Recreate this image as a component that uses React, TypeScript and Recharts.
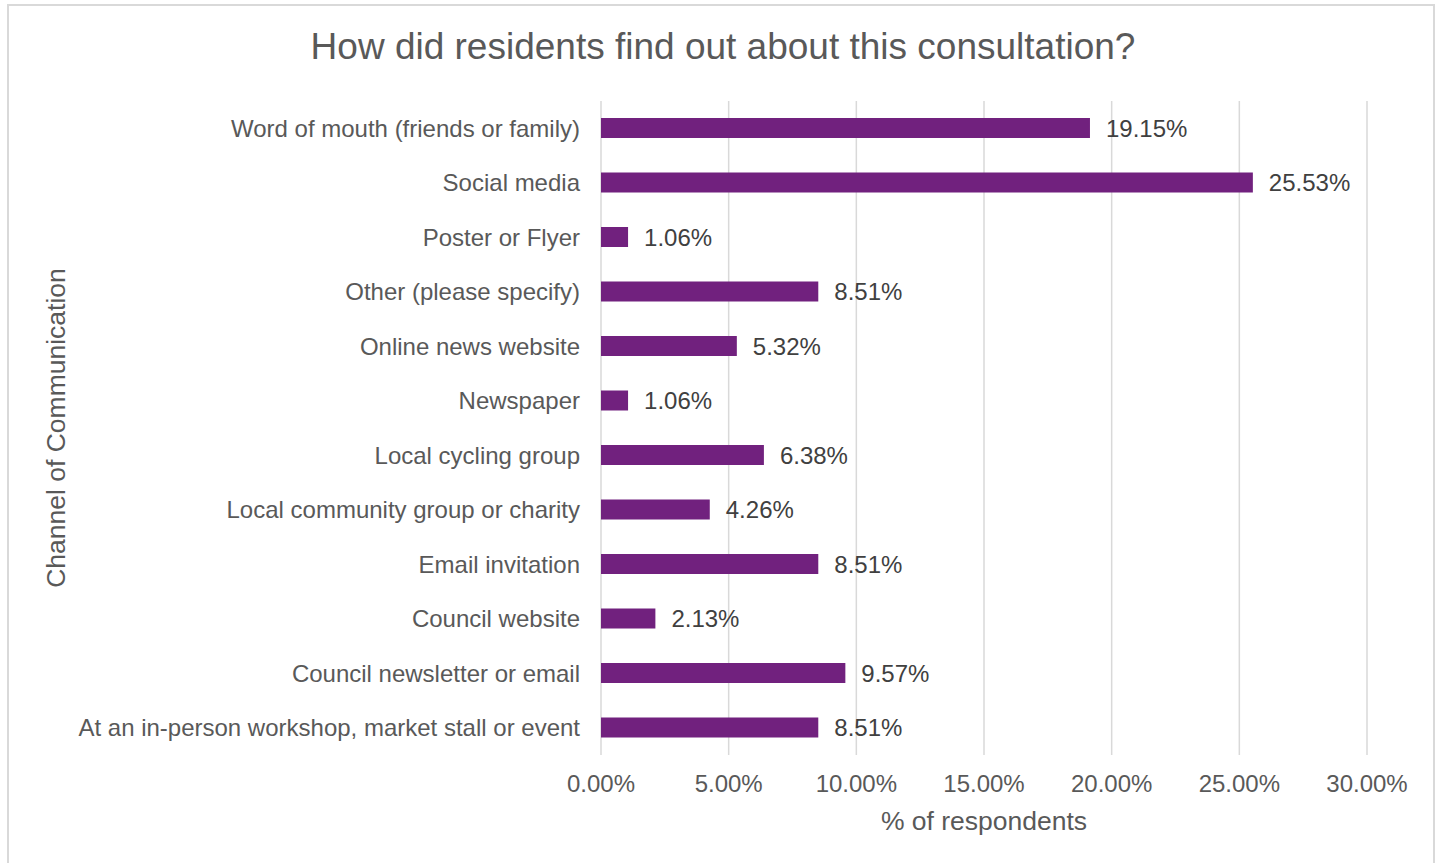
import React from 'react';
import { BarChart, Bar, XAxis, YAxis, CartesianGrid, LabelList } from 'recharts';

const categories = [
  'Word of mouth (friends or family)',
  'Social media',
  'Poster or Flyer',
  'Other (please specify)',
  'Online news website',
  'Newspaper',
  'Local cycling group',
  'Local community group or charity',
  'Email invitation',
  'Council website',
  'Council newsletter or email',
  'At an in-person workshop, market stall or event',
];
const values = [19.15, 25.53, 1.06, 8.51, 5.32, 1.06, 6.38, 4.26, 8.51, 2.13, 9.57, 8.51];
const xTicks = [0, 5, 10, 15, 20, 25, 30];

const data = categories.map((c, i) => ({ name: c, value: values[i] }));

const FONT = 'Liberation Sans, Arial, sans-serif';

export default function App() {
  return (
    <div style={{ position: 'absolute', left: 0, top: 0, width: 1442, height: 863, background: '#fff', fontFamily: FONT }}>
      <div style={{ position: 'absolute', left: 7, top: 4, width: 1428, height: 870, border: '2px solid #d9d9d9', boxSizing: 'border-box' }} />
      <div style={{ position: 'absolute', left: 0, top: 26, width: 1446, textAlign: 'center', fontSize: 37, color: '#595959', fontFamily: FONT }}>
        How did residents find out about this consultation?
      </div>
      <div style={{ position: 'absolute', left: 0, top: 0 }}>
        <BarChart
          width={1442}
          height={863}
          data={data}
          layout="vertical"
          margin={{ top: 101, right: 75, bottom: 0, left: 0 }}
          barCategoryGap={0}
        >
          <CartesianGrid horizontal={false} vertical={true} stroke="#d9d9d9" strokeWidth={1.5} />
          <XAxis
            type="number"
            domain={[0, 30]}
            ticks={xTicks}
            tickFormatter={(v: number) => v.toFixed(2) + '%'}
            axisLine={false}
            tickLine={false}
            tickSize={0}
            tickMargin={20}
            tick={{ fill: '#595959', fontSize: 24, fontFamily: FONT }}
            height={108}
            label={{ value: '% of respondents', position: 'insideTop', dy: 51, fill: '#595959', fontSize: 26.5, fontFamily: FONT }}
          />
          <YAxis
            type="category"
            dataKey="name"
            width={601}
            axisLine={false}
            tickLine={false}
            tickSize={0}
            tickMargin={21}
            interval={0}
            tick={{ fill: '#595959', fontSize: 24, fontFamily: FONT }}
            label={{ value: 'Channel of Communication', angle: -90, position: 'insideLeft', dx: 51, fill: '#595959', fontSize: 26.5, fontFamily: FONT, style: { textAnchor: 'middle' } }}
          />
          <Bar dataKey="value" fill="#71217e" barSize={20} isAnimationActive={false}>
            <LabelList
              dataKey="value"
              position="right"
              offset={16}
              formatter={(v: number) => v.toFixed(2) + '%'}
              style={{ fill: '#404040', fontSize: 24, fontFamily: FONT }}
            />
          </Bar>
        </BarChart>
      </div>
    </div>
  );
}
